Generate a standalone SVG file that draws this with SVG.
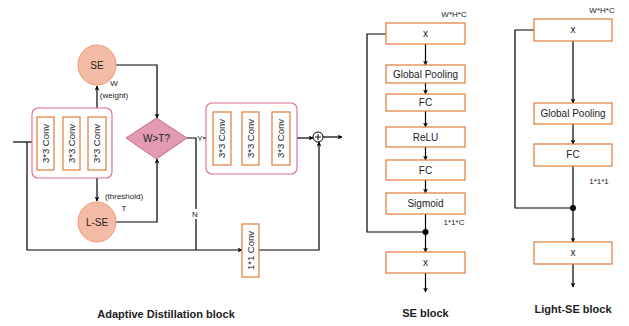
<svg xmlns="http://www.w3.org/2000/svg" width="629" height="326" viewBox="0 0 629 326">
<defs>
<marker id="ah" viewBox="0 0 10 10" refX="9" refY="5" markerWidth="5" markerHeight="5" orient="auto-start-reverse" markerUnits="userSpaceOnUse">
<path d="M0,0 L10,5 L0,10 L3,5 Z" fill="#000"/>
</marker>
<style>
text{font-family:"Liberation Sans","Open Sans",Arial,sans-serif;fill:#222}
.lbl{font-size:10px;text-anchor:middle}
.sm{font-size:8px;text-anchor:middle}
.cv{font-size:9.5px;text-anchor:middle}
.title{font-size:11px;font-weight:bold;text-anchor:middle}
.box{fill:#fff;stroke:#e07a38;stroke-width:1.2}
.grp{fill:#fff;stroke:#d96a94;stroke-width:1.1}
.circ{fill:#f4bba6;stroke:#ee9772;stroke-width:1}
.ln{fill:none;stroke:#000;stroke-width:1.2}
.arr{fill:none;stroke:#000;stroke-width:1.2;marker-end:url(#ah)}
.dbl{fill:none;stroke:#000;stroke-width:1.2;marker-end:url(#ah);marker-start:url(#ah)}
</style>
</defs>
<rect width="629" height="326" fill="#fff"/>

<g id="connectors">
<path class="arr" d="M13,142 H37"/>
<path class="ln" d="M27,142 V250 H196"/>
<path class="arr" d="M196,250 H242"/>
<path class="arr" d="M54,142 H63"/>
<path class="arr" d="M80,142 H88"/>
<path class="dbl" d="M97,86 V117"/>
<path class="dbl" d="M97,170 V201"/>
<path class="arr" d="M116,65 H157 V118"/>
<path class="arr" d="M116,222 H157 V159"/>
<path class="ln" d="M187,138 H196 V209"/>
<path class="ln" d="M196,219 V250"/>
<path class="arr" d="M203,138 H213"/>
<path class="arr" d="M231,138 H242"/>
<path class="arr" d="M259,138 H272"/>
<path class="arr" d="M297,138 H313"/>
<path class="arr" d="M323,137 H342"/>
<path class="arr" d="M259,250 H319 V142"/>
<path class="arr" d="M425.5,44 V65"/>
<path class="arr" d="M425.5,83 V94"/>
<path class="arr" d="M425.5,111 V127"/>
<path class="arr" d="M425.5,147 V160"/>
<path class="arr" d="M425.5,180 V193"/>
<path class="arr" d="M425.5,214 V252"/>
<path class="ln" d="M386,34 H367 V232 H425.5"/>
<path class="arr" d="M425.5,273 V292"/>
<path class="arr" d="M573,41 V103"/>
<path class="arr" d="M573,124 V144"/>
<path class="arr" d="M573,166 V242"/>
<path class="ln" d="M534,30 H515 V208 H573"/>
<path class="arr" d="M573,264 V287"/>
</g>

<g id="se-circle">
<ellipse class="circ" cx="97" cy="65" rx="19" ry="20"/>
<text class="lbl" x="97" y="69">SE</text>
</g>
<text class="sm" x="114" y="86">W</text>
<text class="sm" x="114" y="98">(weight)</text>

<g id="conv-group-left">
<rect class="grp" x="32" y="108" width="80" height="70" rx="6"/>
<rect class="box" x="37" y="117" width="17" height="53"/>
<text class="cv" transform="translate(48.8,143.5) rotate(-90)">3*3 Conv</text>
<rect class="box" x="63" y="117" width="17" height="53"/>
<text class="cv" transform="translate(74.8,143.5) rotate(-90)">3*3 Conv</text>
<rect class="box" x="88" y="117" width="18" height="53"/>
<text class="cv" transform="translate(100.3,143.5) rotate(-90)">3*3 Conv</text>
</g>

<g id="lse-circle">
<ellipse class="circ" cx="97" cy="222" rx="19" ry="20"/>
<text class="lbl" x="97" y="226">L-SE</text>
</g>
<text class="sm" x="124" y="199">(threshold)</text>
<text class="sm" x="124" y="211">T</text>

<g id="decision">
<polygon points="126,138 156.5,118 187,138 156.5,159" fill="#e29bb2" stroke="#c96a8e" stroke-width="1"/>
<text class="lbl" x="156.5" y="142">W&gt;T?</text>
</g>
<text class="sm" x="200" y="141">Y</text>
<text class="sm" x="195" y="217">N</text>

<g id="conv-group-right">
<rect class="grp" x="206" y="103" width="91" height="71" rx="6"/>
<rect class="box" x="213" y="112" width="18" height="53"/>
<text class="cv" transform="translate(225.3,138.5) rotate(-90)">3*3 Conv</text>
<rect class="box" x="242" y="112" width="17" height="53"/>
<text class="cv" transform="translate(253.8,138.5) rotate(-90)">3*3 Conv</text>
<rect class="box" x="272" y="112" width="18" height="53"/>
<text class="cv" transform="translate(284.3,138.5) rotate(-90)">3*3 Conv</text>
</g>

<g id="plus">
<circle cx="318" cy="137" r="5" fill="#fff" stroke="#000" stroke-width="1"/>
<path d="M315,137 H321 M318,134 V140" stroke="#000" stroke-width="0.9"/>
</g>

<g id="conv1x1">
<rect class="box" x="242" y="224" width="17" height="53"/>
<text class="cv" transform="translate(253.8,250.5) rotate(-90)">1*1 Conv</text>
</g>

<text class="title" x="166" y="318">Adaptive Distillation block</text>

<text class="sm" x="454" y="17">W*H*C</text>
<g id="se-x"><rect class="box" x="386" y="23" width="79" height="21"/><text class="lbl" x="425.5" y="37">x</text></g>
<g id="se-gp"><rect class="box" x="386" y="65" width="79" height="18"/><text class="lbl" x="425.5" y="77.5">Global Pooling</text></g>
<g id="se-fc1"><rect class="box" x="386" y="94" width="79" height="17"/><text class="lbl" x="425.5" y="106">FC</text></g>
<g id="se-relu"><rect class="box" x="386" y="127" width="79" height="20"/><text class="lbl" x="425.5" y="141">ReLU</text></g>
<g id="se-fc2"><rect class="box" x="386" y="160" width="79" height="20"/><text class="lbl" x="425.5" y="174">FC</text></g>
<g id="se-sig"><rect class="box" x="386" y="193" width="79" height="21"/><text class="lbl" x="425.5" y="207">Sigmoid</text></g>
<text class="sm" x="454" y="225">1*1*C</text>
<circle cx="425.5" cy="232" r="3" fill="#000"/>
<g id="se-x2"><rect class="box" x="386" y="252" width="79" height="21"/><text class="lbl" x="425.5" y="266">x</text></g>
<text class="title" x="425.5" y="317">SE block</text>

<text class="sm" x="602" y="13">W*H*C</text>
<g id="lse-x"><rect class="box" x="534" y="19" width="78" height="22"/><text class="lbl" x="573" y="33">x</text></g>
<g id="lse-gp"><rect class="box" x="534" y="103" width="78" height="21"/><text class="lbl" x="573" y="117">Global Pooling</text></g>
<g id="lse-fc"><rect class="box" x="534" y="144" width="78" height="22"/><text class="lbl" x="573" y="158">FC</text></g>
<text class="sm" x="599" y="184">1*1*1</text>
<circle cx="573" cy="208" r="3" fill="#000"/>
<g id="lse-x2"><rect class="box" x="534" y="242" width="78" height="22"/><text class="lbl" x="573" y="256">x</text></g>
<text class="title" x="573" y="313">Light-SE block</text>
</svg>
